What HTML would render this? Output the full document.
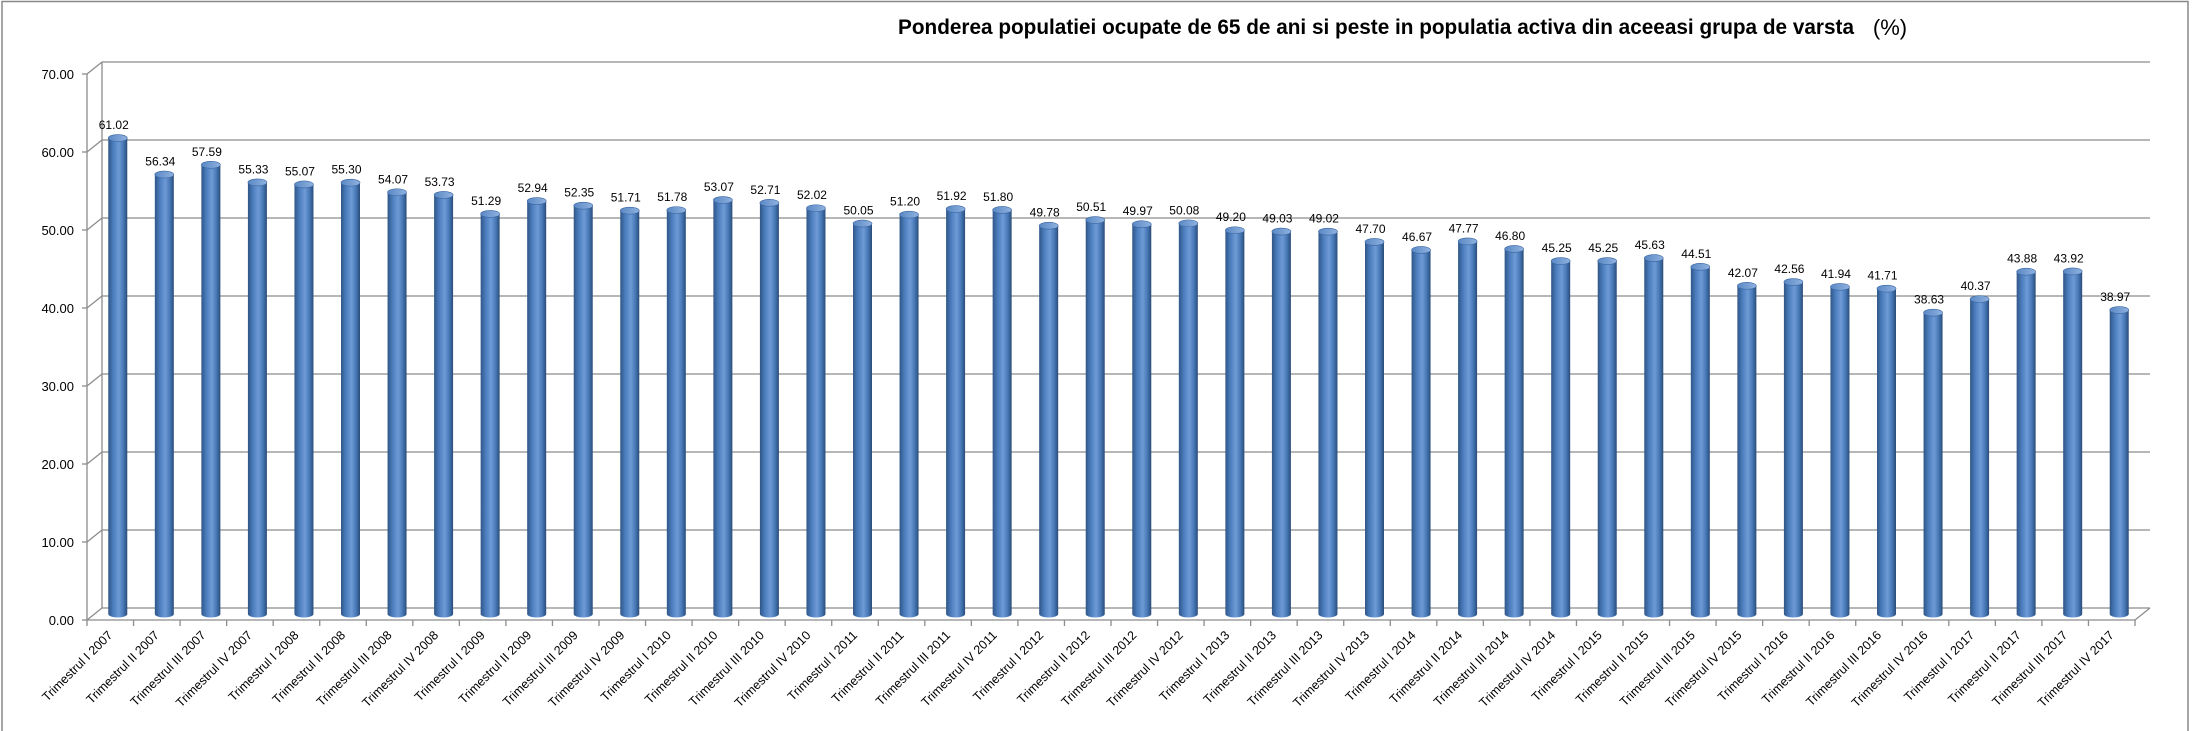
<!DOCTYPE html>
<html><head><meta charset="utf-8"><style>
html,body{margin:0;padding:0;background:#fff;width:2199px;height:731px;overflow:hidden}
svg{display:block}
text{font-family:"Liberation Sans",sans-serif}
</style></head><body>
<svg id="c" width="2199" height="731" xmlns="http://www.w3.org/2000/svg">
<defs>
<linearGradient id="g" x1="0" x2="1" y1="0" y2="0">
<stop offset="0" stop-color="#2f5686"/><stop offset="0.25" stop-color="#4a7bbb"/>
<stop offset="0.55" stop-color="#6e9bd6"/><stop offset="0.8" stop-color="#4677b5"/>
<stop offset="1" stop-color="#2a4c78"/></linearGradient>
<linearGradient id="t" x1="0" x2="1" y1="0" y2="0">
<stop offset="0" stop-color="#5a88c4"/><stop offset="1" stop-color="#8fb2e0"/></linearGradient>
</defs>
<rect x="2" y="1.5" width="2186" height="740" fill="none" stroke="#888" stroke-width="1.5"/>
<text x="898" y="34" font-size="21" font-weight="bold" textLength="956" lengthAdjust="spacingAndGlyphs">Ponderea populatiei ocupate de 65 de ani si peste in populatia activa din aceeasi grupa de varsta</text>
<text x="1890" y="35" text-anchor="middle" font-size="22" font-family="Liberation Serif,serif">(%)</text>
<g id="grid"></g><g id="bars"></g><g id="lab"></g>
</svg>
<script>
const V=[61.02,56.34,57.59,55.33,55.07,55.30,54.07,53.73,51.29,52.94,52.35,51.71,51.78,53.07,52.71,52.02,50.05,51.20,51.92,51.80,49.78,50.51,49.97,50.08,49.20,49.03,49.02,47.70,46.67,47.77,46.80,45.25,45.25,45.63,44.51,42.07,42.56,41.94,41.71,38.63,40.37,43.88,43.92,38.97];
const R=["I","II","III","IV"];
const NS="http://www.w3.org/2000/svg";
function el(p,n,a,txt){const e=document.createElementNS(NS,n);for(const k in a)e.setAttribute(k,a[k]);if(txt!=null)e.textContent=txt;document.getElementById(p).appendChild(e);return e;}
const fx=87,bx=102,rx=2135,brx=2150,dy=12,s=7.8;
for(let v=0;v<=70;v+=10){const yf=620-s*v,yb=yf-dy;
 el("grid","line",{x1:bx,y1:yb,x2:brx,y2:yb,stroke:"#8c8c8c","stroke-width":1.3});
 el("grid","line",{x1:fx,y1:yf,x2:bx,y2:yb,stroke:"#8c8c8c","stroke-width":1.3});
 el("grid","line",{x1:fx-5,y1:yf,x2:fx,y2:yf,stroke:"#8c8c8c","stroke-width":1.3});
 el("grid","text",{x:74,y:yf+5,"text-anchor":"end","font-size":13,fill:"#000"},v.toFixed(2));}
el("grid","line",{x1:fx,y1:620-s*70,x2:fx,y2:620,stroke:"#8c8c8c","stroke-width":1.3});
el("grid","line",{x1:bx,y1:608-s*70,x2:bx,y2:608,stroke:"#8c8c8c","stroke-width":1.3});
el("grid","line",{x1:fx,y1:620,x2:rx,y2:620,stroke:"#8c8c8c","stroke-width":1.3});
el("grid","line",{x1:rx,y1:620,x2:brx,y2:608,stroke:"#8c8c8c","stroke-width":1.3});
const w=(rx-fx)/44;
for(let i=0;i<=44;i++){const x=fx+i*w;el("grid","line",{x1:x,y1:620,x2:x,y2:626,stroke:"#8c8c8c","stroke-width":1.3});}
V.forEach((v,i)=>{
 const cx=fx+(i+0.5)*w+7.5,hw=9.5,yb=614,yt=614-s*v;
 el("bars","path",{d:`M${cx-hw},${yt} L${cx-hw},${yb} A${hw},3.5 0 0 0 ${cx+hw},${yb} L${cx+hw},${yt} Z`,fill:"url(#g)"});
 el("bars","ellipse",{cx:cx,cy:yt,rx:hw,ry:3.5,fill:"url(#t)",stroke:"#3a65a0","stroke-width":0.6});
 el("lab","text",{x:cx-4,y:yt-9,"text-anchor":"middle","font-size":12,fill:"#000"},v.toFixed(2));
 const y=2007+Math.floor(i/4),q=R[i%4];
 const tx=fx+(i+0.5)*w+3,ty=636;
 el("lab","text",{x:tx,y:ty,"text-anchor":"end","font-size":12.5,fill:"#000",transform:`rotate(-45 ${tx} ${ty})`},`Trimestrul ${q} ${y}`);
});
</script>
</body></html>
